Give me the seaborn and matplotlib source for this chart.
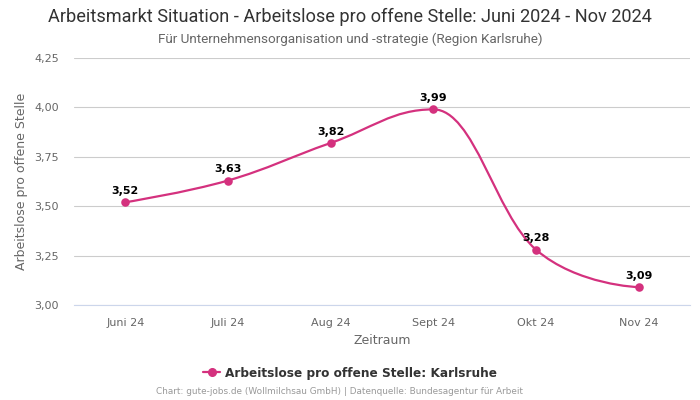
import numpy as np
import pandas as pd
import seaborn as sns
import matplotlib
matplotlib.use("Agg")
import matplotlib.pyplot as plt
from matplotlib.path import Path
from matplotlib.patches import PathPatch
from matplotlib.lines import Line2D

categories = ["Juni 24", "Juli 24", "Aug 24", "Sept 24", "Okt 24", "Nov 24"]
values = [3.52, 3.63, 3.82, 3.99, 3.28, 3.09]
y_ticks = [3.00, 3.25, 3.50, 3.75, 4.00, 4.25]
series_name = "Arbeitslose pro offene Stelle: Karlsruhe"
title = "Arbeitsmarkt Situation - Arbeitslose pro offene Stelle: Juni 2024 - Nov 2024"
subtitle = "Für Unternehmensorganisation und -strategie (Region Karlsruhe)"
credits = "Chart: gute-jobs.de (Wollmilchsau GmbH) | Datenquelle: Bundesagentur für Arbeit"

COLOR = "#d4317e"

sns.set_theme(style="white")
plt.rcParams['font.family'] = ['DejaVu Sans']

df = pd.DataFrame({"Zeitraum": categories, "Wert": values, "x": range(len(categories))})

fig = plt.figure(figsize=(7, 4), dpi=100)
ax = fig.add_axes([74/700, 1-305/400, 616/700, 247/400])


def spline_path(xs, ys, smoothing=1.5):
    n = len(xs)
    denom = smoothing + 1
    lc = [None]*n
    rc = [None]*n
    for i in range(n):
        x, y = xs[i], ys[i]
        if 0 < i < n-1:
            lx, ly = xs[i-1], ys[i-1]
            nx, ny = xs[i+1], ys[i+1]
            lcx = (smoothing*x + lx)/denom
            lcy = (smoothing*y + ly)/denom
            rcx = (smoothing*x + nx)/denom
            rcy = (smoothing*y + ny)/denom
            if rcx != lcx:
                corr = (rcy - lcy)*(rcx - x)/(rcx - lcx) + y - rcy
                lcy += corr
                rcy += corr
                if lcy > ly and lcy > y:
                    lcy = max(ly, y); rcy = 2*y - lcy
                elif lcy < ly and lcy < y:
                    lcy = min(ly, y); rcy = 2*y - lcy
                if rcy > ny and rcy > y:
                    rcy = max(ny, y); lcy = 2*y - rcy
                elif rcy < ny and rcy < y:
                    rcy = min(ny, y); lcy = 2*y - rcy
            lc[i] = (lcx, lcy)
            rc[i] = (rcx, rcy)
        else:
            lc[i] = (x, y)
            rc[i] = (x, y)
    verts = [(xs[0], ys[0])]
    codes = [Path.MOVETO]
    for i in range(1, n):
        verts += [rc[i-1], lc[i], (xs[i], ys[i])]
        codes += [Path.CURVE4]*3
    return Path(verts, codes)


path = spline_path(list(df["x"]), list(df["Wert"]))
ax.add_patch(PathPatch(path, facecolor="none", edgecolor=COLOR, lw=1.6, zorder=3))

sns.scatterplot(data=df, x="x", y="Wert", color=COLOR, s=38, edgecolor=COLOR,
                linewidth=0, ax=ax, zorder=4, legend=False)

for xi, v in zip(df["x"], df["Wert"]):
    ax.annotate(f"{v:.2f}".replace(".", ","), (xi, v), xytext=(0, 4.5),
                textcoords="offset points", ha="center", va="bottom",
                fontsize=8, fontweight="bold", color="black", zorder=5)

ax.set_xlim(-0.5, len(categories) - 0.5)
ax.set_ylim(3.0, 4.25)
ax.set_yticks(y_ticks)
ax.set_yticklabels([f"{t:.2f}".replace(".", ",") for t in y_ticks])
ax.set_xticks(range(len(categories)))
ax.set_xticklabels(categories)
ax.tick_params(axis="both", length=0, labelsize=8, labelcolor="#666666")
ax.tick_params(axis="x", pad=9)
ax.tick_params(axis="y", pad=11)
ax.grid(axis="y", color="#cccccc", lw=0.8)
ax.set_axisbelow(True)
for s in ["top", "right", "left"]:
    ax.spines[s].set_visible(False)
ax.spines["bottom"].set_color("#ccd6eb")
ax.spines["bottom"].set_linewidth(0.8)
ax.set_xlabel("Zeitraum", fontsize=9, color="#666666", labelpad=5)
ax.set_ylabel("Arbeitslose pro offene Stelle", fontsize=9, color="#666666", labelpad=4)

fig.text(0.5, 1-17/400, title, ha="center", va="center", fontsize=13.1,
         color="#333333", family=["Roboto", "DejaVu Sans"])
fig.text(0.5, 1-39/400, subtitle, ha="center", va="center", fontsize=9.7,
         color="#666666", family=["Roboto", "DejaVu Sans"])

handle = Line2D([0], [0], color=COLOR, lw=1.6, marker="o", markersize=5.5)
fig.legend([handle], [series_name], loc="center", bbox_to_anchor=(0.5, 1-373/400),
           frameon=False, prop={"weight": "bold", "size": 8.7}, labelcolor="#333333",
           handlelength=1.4, handletextpad=0.4)
fig.text(340/700, 1-392/400, credits, ha="center", va="center", fontsize=6.4, color="#999999")

fig.savefig("out.png", dpi=100)
